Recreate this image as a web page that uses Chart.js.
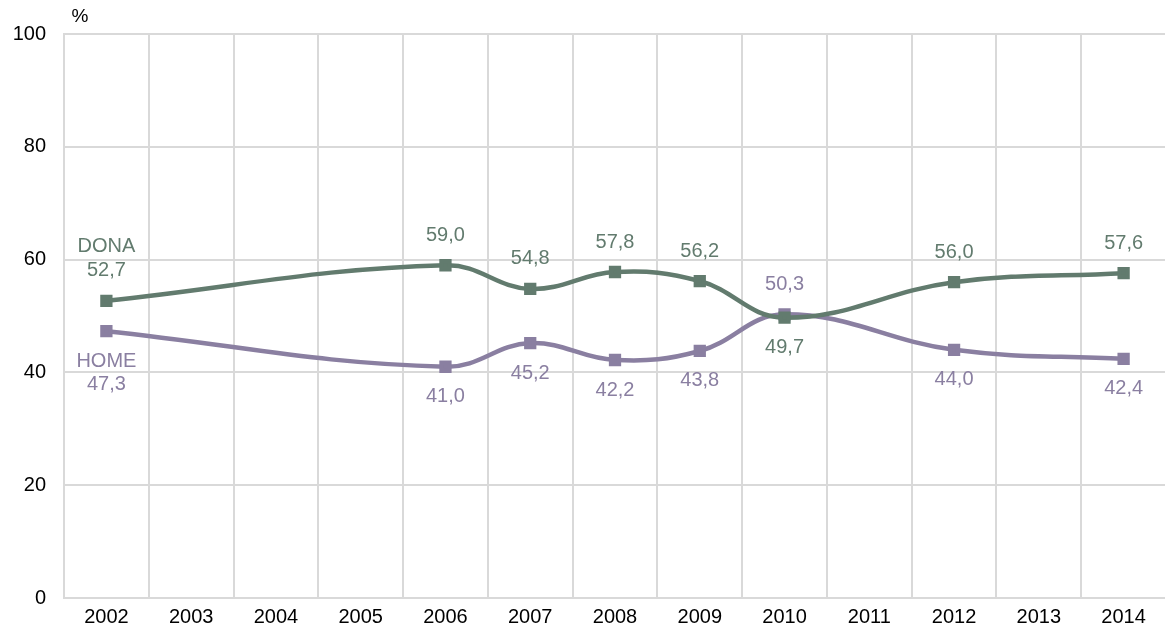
<!DOCTYPE html>
<html>
<head>
<meta charset="utf-8">
<script src="https://cdn.jsdelivr.net/npm/chart.js@4"></script>
<style>
  html, body { margin: 0; padding: 0; background: #fff; overflow: hidden; }
  .wrap { width: 1176px; height: 633px; position: relative; }
</style>
</head>
<body>
<div class="wrap"><canvas id="chart"></canvas></div>
<script>
// Data
const years = ['2002', '2003', '2004', '2005', '2006', '2007', '2008', '2009', '2010', '2011', '2012', '2013', '2014'];
const dona = [52.7, null, null, null, 59.0, 54.8, 57.8, 56.2, 49.7, null, 56.0, null, 57.6];
const home = [47.3, null, null, null, 41.0, 45.2, 42.2, 43.8, 50.3, null, 44.0, null, 42.4];
const yTicks = [0, 20, 40, 60, 80, 100];

const GREEN = '#627b6e';
const PURPLE = '#8a7fa1';
const FONT = '"Liberation Sans", Arial, sans-serif';

// where the value label goes: 1 = above the point, -1 = below
const donaSide = [1, 0, 0, 0, 1, 1, 1, 1, -1, 0, 1, 0, 1];
const homeSide = [-1, 0, 0, 0, -1, -1, -1, -1, 1, 0, -1, 0, -1];

function fmt(v) {
    return v.toFixed(1).replace('.', ',');
}

const labelPlugin = {
    id: 'valueLabels',
    afterDatasetsDraw(chart) {
        const ctx = chart.ctx;
        ctx.save();
        ctx.font = '20px ' + FONT;
        ctx.textAlign = 'center';
        ctx.textBaseline = 'middle';
        chart.data.datasets.forEach((ds, i) => {
            const meta = chart.getDatasetMeta(i);
            ctx.fillStyle = ds.borderColor;
            meta.data.forEach((pt, j) => {
                const v = ds.data[j];
                if (v === null) return;
                const side = ds.sides[j];
                if (j === 0) {
                    // series name sits on the outer side, next to the first value
                    if (side > 0) {
                        ctx.fillText(fmt(v), pt.x, pt.y - 30);
                        ctx.fillText(ds.label, pt.x, pt.y - 54);
                    } else {
                        ctx.fillText(ds.label, pt.x, pt.y + 30);
                        ctx.fillText(fmt(v), pt.x, pt.y + 53);
                    }
                } else {
                    ctx.fillText(fmt(v), pt.x, pt.y - side * 30);
                }
            });
        });
        // unit
        ctx.fillStyle = '#000';
        ctx.font = '19px ' + FONT;
        ctx.fillText('%', 80, 17);
        ctx.restore();
    }
};

const ctx = document.getElementById('chart').getContext('2d');
const chart = new Chart(ctx, {
    type: 'line',
    data: {
        labels: years,
        datasets: [{
            label: 'DONA',
            data: dona,
            sides: donaSide,
            borderColor: GREEN,
            backgroundColor: GREEN,
            borderWidth: 4.5,
            pointStyle: 'rect',
            pointRadius: 5.5,
            tension: 0.4,
            spanGaps: true
        }, {
            label: 'HOME',
            data: home,
            sides: homeSide,
            borderColor: PURPLE,
            backgroundColor: PURPLE,
            borderWidth: 4.5,
            pointStyle: 'rect',
            pointRadius: 5.5,
            tension: 0.4,
            spanGaps: true
        }]
    },
    options: {
        responsive: true,
        maintainAspectRatio: false,
        animation: false,
        layout: {
            padding: { top: 34, left: 0, right: 0, bottom: 0 }
        },
        plugins: {
            legend: { display: false },
            tooltip: { enabled: false }
        },
        scales: {
            x: {
                offset: true,
                grid: {
                    offset: true,
                    color: '#d9d9d9',
                    lineWidth: 2,
                    drawTicks: false
                },
                border: { display: false },
                ticks: {
                    color: '#000',
                    padding: 7,
                    maxRotation: 0,
                    autoSkip: false,
                    font: { family: FONT, size: 20 }
                },
                afterFit(scale) { scale.height = 35; }
            },
            y: {
                min: 0,
                max: 100,
                afterBuildTicks(scale) {
                    scale.ticks = yTicks.map(v => ({ value: v }));
                },
                grid: {
                    color: '#d9d9d9',
                    lineWidth: 2,
                    drawTicks: false
                },
                border: { color: '#d9d9d9', width: 2 },
                ticks: {
                    color: '#000',
                    padding: 18,
                    font: { family: FONT, size: 20 }
                },
                afterFit(scale) { scale.width = 64; }
            }
        }
    },
    plugins: [labelPlugin]
});
</script>
</body>
</html>
